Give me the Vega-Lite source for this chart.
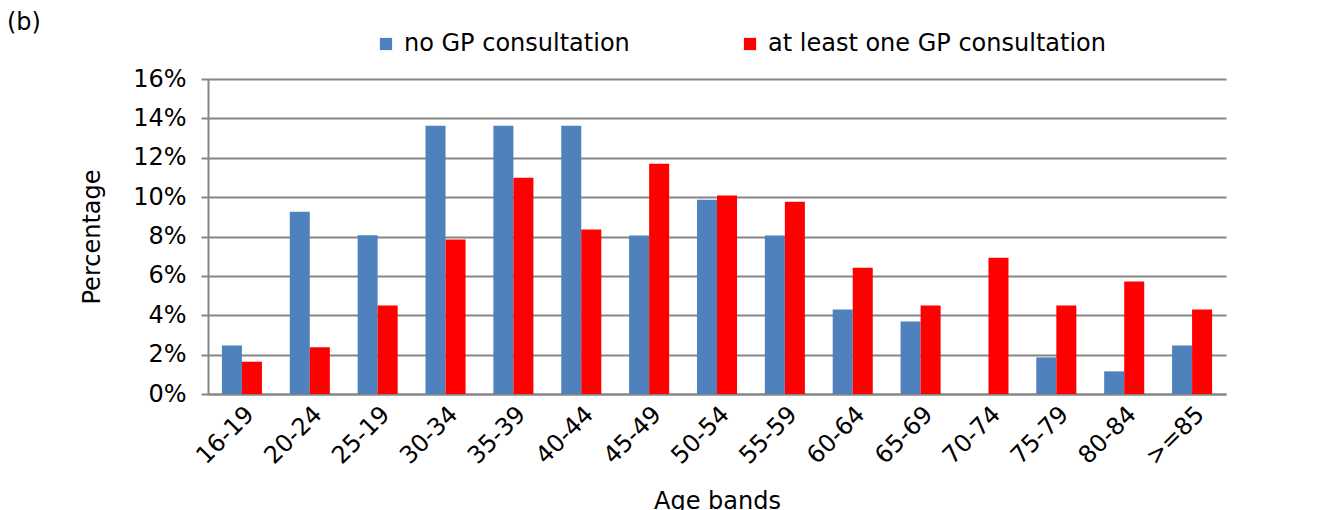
{
  "$schema": "https://vega.github.io/schema/vega-lite/v6.json",
  "width": 1018,
  "height": 315,
  "autosize": {"type": "none"},
  "padding": {"left": 208, "top": 79, "right": 98, "bottom": 116},
  "background": "white",
  "title": {"text": "(b)", "anchor": "start", "frame": "group", "dx": -201, "dy": 3, "fontSize": 24, "font": "DejaVu Sans", "fontWeight": "normal", "color": "black", "offset": 0},
  "data": {"values": [
    {"age": "16-19", "group": "no GP consultation", "value": 0.0246},
    {"age": "16-19", "group": "at least one GP consultation", "value": 0.0164},
    {"age": "20-24", "group": "no GP consultation", "value": 0.0926},
    {"age": "20-24", "group": "at least one GP consultation", "value": 0.0237},
    {"age": "25-19", "group": "no GP consultation", "value": 0.0806},
    {"age": "25-19", "group": "at least one GP consultation", "value": 0.0449},
    {"age": "30-34", "group": "no GP consultation", "value": 0.1362},
    {"age": "30-34", "group": "at least one GP consultation", "value": 0.0785},
    {"age": "35-39", "group": "no GP consultation", "value": 0.1362},
    {"age": "35-39", "group": "at least one GP consultation", "value": 0.1099},
    {"age": "40-44", "group": "no GP consultation", "value": 0.1362},
    {"age": "40-44", "group": "at least one GP consultation", "value": 0.0835},
    {"age": "45-49", "group": "no GP consultation", "value": 0.0805},
    {"age": "45-49", "group": "at least one GP consultation", "value": 0.1169},
    {"age": "50-54", "group": "no GP consultation", "value": 0.0987},
    {"age": "50-54", "group": "at least one GP consultation", "value": 0.1008},
    {"age": "55-59", "group": "no GP consultation", "value": 0.0805},
    {"age": "55-59", "group": "at least one GP consultation", "value": 0.0977},
    {"age": "60-64", "group": "no GP consultation", "value": 0.0429},
    {"age": "60-64", "group": "at least one GP consultation", "value": 0.0641},
    {"age": "65-69", "group": "no GP consultation", "value": 0.0368},
    {"age": "65-69", "group": "at least one GP consultation", "value": 0.0449},
    {"age": "70-74", "group": "no GP consultation", "value": 0},
    {"age": "70-74", "group": "at least one GP consultation", "value": 0.0692},
    {"age": "75-79", "group": "no GP consultation", "value": 0.0186},
    {"age": "75-79", "group": "at least one GP consultation", "value": 0.0449},
    {"age": "80-84", "group": "no GP consultation", "value": 0.0115},
    {"age": "80-84", "group": "at least one GP consultation", "value": 0.0572},
    {"age": ">=85", "group": "no GP consultation", "value": 0.0246},
    {"age": ">=85", "group": "at least one GP consultation", "value": 0.0429}
  ]},
  "mark": {"type": "bar"},
  "encoding": {
    "x": {
      "field": "age", "type": "nominal", "sort": null,
      "scale": {"paddingInner": 0.41, "paddingOuter": 0.205},
      "axis": {
        "title": "Age bands", "titleFontSize": 24, "titleFont": "DejaVu Sans", "titleFontWeight": "normal", "titleColor": "black", "titlePadding": 20,
        "labelAngle": -45, "labelAlign": "right", "labelBaseline": "top", "labelFontSize": 24, "labelFont": "DejaVu Sans", "labelColor": "black", "labelPadding": 8,
        "ticks": false, "domainColor": "#868686", "domainWidth": 2
      }
    },
    "xOffset": {"field": "group", "type": "nominal", "sort": ["no GP consultation", "at least one GP consultation"]},
    "y": {
      "field": "value", "type": "quantitative",
      "scale": {"domain": [0, 0.16]},
      "axis": {
        "title": "Percentage", "titleFontSize": 24, "titleFont": "DejaVu Sans", "titleFontWeight": "normal", "titleColor": "black", "titlePadding": 28,
        "format": ".0%", "values": [0, 0.02, 0.04, 0.06, 0.08, 0.1, 0.12, 0.14, 0.16],
        "labelFontSize": 24, "labelFont": "DejaVu Sans", "labelColor": "black", "labelPadding": 15,
        "grid": true, "gridColor": "#868686", "gridWidth": 2,
        "tickColor": "#868686", "tickSize": 7, "tickWidth": 2,
        "domainColor": "#868686", "domainWidth": 2
      }
    },
    "color": {
      "field": "group", "type": "nominal",
      "scale": {"domain": ["no GP consultation", "at least one GP consultation"], "range": ["#4F81BD", "#FF0000"]},
      "legend": {
        "title": null, "orient": "none", "legendX": 166, "legendY": -47, "direction": "horizontal",
        "symbolType": "square", "symbolSize": 150, "symbolStrokeWidth": 0,
        "labelFontSize": 24, "labelFont": "DejaVu Sans", "labelColor": "black", "labelOffset": 6, "labelLimit": 0,
        "columnPadding": 108
      }
    }
  },
  "config": {"view": {"stroke": null}}
}
